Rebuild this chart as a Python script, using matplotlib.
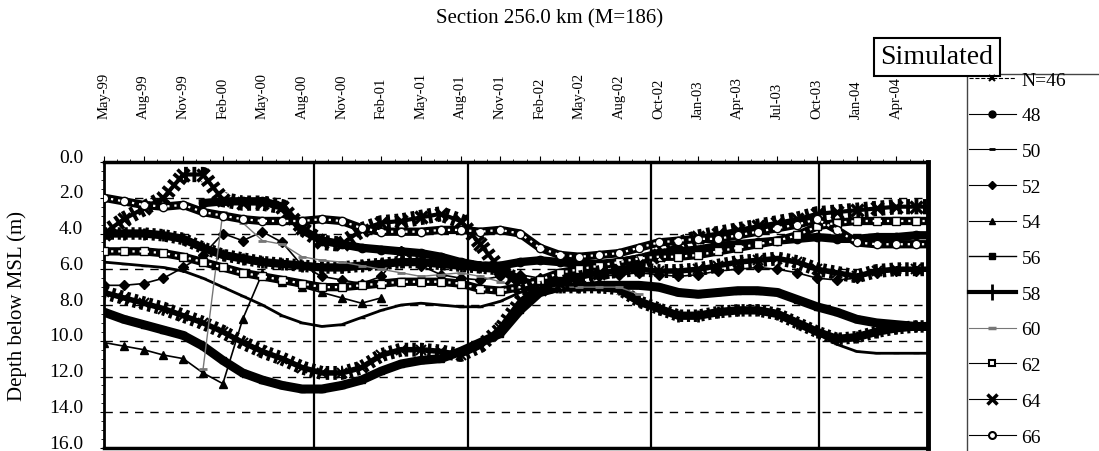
import numpy as np
import matplotlib
matplotlib.use('Agg')
import matplotlib.pyplot as plt
import matplotlib.transforms as mtransforms
from matplotlib.lines import Line2D
from matplotlib.ticker import MultipleLocator

plt.rcParams['font.family'] = ['Liberation Serif', 'DejaVu Serif']

# tick labels along the top axis (one every category step)
months = ['May-99', 'Aug-99', 'Nov-99', 'Feb-00', 'May-00', 'Aug-00', 'Nov-00',
          'Feb-01', 'May-01', 'Aug-01', 'Nov-01', 'Feb-02', 'May-02', 'Aug-02',
          'Oct-02', 'Jan-03', 'Apr-03', 'Jul-03', 'Oct-03', 'Jan-04', 'Apr-04']

# sample positions, two per label step
step = np.arange(0, 21.5, 0.5)
nan = np.nan

# depth below MSL (m), one list per N
n46 = [7.3, 7.6, 7.9, 8.2, 8.6, 9.0, 9.5, 10.1, 10.6, 11.0, 11.5, 11.8, 11.8, 11.5, 10.8,
       10.5, 10.5, 10.6, 10.8, 10.3, 9.3, 7.8, 6.9, 6.5, 6.3, 6.2, 6.1, 6.0, 6.1, 6.1,
       6.0, 5.8, 5.6, 5.5, 5.4, 5.6, 6.0, 6.2, 6.4, 6.1, 6.0, 6.0, 6.0]
n48 = [nan, nan, nan, nan, nan, 2.3, 2.2, 2.2, 2.2, 2.5, 3.8, 4.4, 4.6, 4.8, 4.9,
       5.0, 5.1, 5.3, 5.6, 5.8, 5.8, 5.6, 5.5, 5.6, 5.7, 5.7, 5.6, 5.4, 5.1, 5.0,
       4.9, 4.7, 4.6, 4.5, 4.4, 4.3, 4.2, 4.3, 4.3, 4.2, 4.2, 4.1, 4.1]
n50 = [5.6, 5.7, 5.8, 5.9, 6.1, 6.5, 7.0, 7.5, 8.0, 8.6, 9.0, 9.2, 9.1, 8.7, 8.3,
       8.0, 7.9, 8.0, 8.1, 8.1, 7.8, 7.3, 7.0, 7.0, 7.0, 7.0, 7.1, 7.8, 8.2, 8.6,
       8.6, 8.4, 8.3, 8.3, 8.5, 9.0, 9.6, 10.2, 10.6, 10.7, 10.7, 10.7, 10.7]
n52 = [6.9, 6.9, 6.8, 6.5, 5.9, 5.2, 4.0, 4.4, 3.9, 4.5, 5.8, 6.4, 6.6, 6.8, 6.4,
       5.0, 5.8, 6.3, 6.5, 6.6, 6.4, 6.3, 6.5, 6.6, 6.5, 6.4, 6.3, 6.2, 6.3, 6.4,
       6.3, 6.1, 6.0, 5.9, 6.0, 6.2, 6.5, 6.6, 6.5, 6.2, 6.1, 6.1, 6.1]
n54 = [10.1, 10.3, 10.5, 10.8, 11.0, 11.8, 12.4, 8.8, 6.2, 6.7, 7.0, 7.3, 7.6, 7.9, 7.6,
       nan, nan, nan, nan, nan, nan, nan, nan, nan, nan, nan, nan, nan, nan, nan,
       nan, nan, nan, nan, nan, nan, nan, nan, nan, nan, nan, nan, nan]
n56 = [8.4, 8.8, 9.1, 9.4, 9.7, 10.3, 11.1, 11.8, 12.2, 12.5, 12.7, 12.7, 12.5, 12.2, 11.7,
       11.3, 11.1, 11.0, 10.6, 10.1, 9.6, 8.3, 7.3, 7.0, 7.0, 6.9, 6.9, 6.9, 7.0, 7.3,
       7.4, 7.3, 7.2, 7.2, 7.3, 7.7, 8.1, 8.4, 8.8, 9.0, 9.1, 9.2, 9.2]
n58 = [4.0, 4.0, 4.0, 4.1, 4.3, 4.8, 5.2, 5.4, 5.6, 5.7, 5.8, 5.9, 5.9, 5.8, 5.7,
       5.6, 5.6, 5.7, 5.8, 5.9, 6.0, 6.6, 7.0, 7.0, 7.0, 7.0, 7.1, 7.8, 8.2, 8.6,
       8.6, 8.4, 8.3, 8.3, 8.5, 9.0, 9.5, 9.9, 9.8, 9.5, 9.3, 9.2, 9.2]
n60 = [nan, nan, nan, nan, nan, 11.6, 2.8, 3.4, 4.4, 4.6, 5.3, 5.5, 5.6, 5.8, 6.0,
       6.2, 6.4, 6.3, 6.2, 6.4, 6.7, 7.0, 7.0, 7.0, 7.0, 7.0, 7.0, 7.4, nan, nan,
       nan, nan, nan, nan, nan, nan, nan, nan, nan, nan, nan, nan, nan]
n62 = [5.0, 5.0, 5.0, 5.1, 5.3, 5.6, 5.9, 6.2, 6.4, 6.6, 6.8, 7.0, 7.0, 6.9, 6.8,
       6.7, 6.7, 6.7, 6.8, 7.1, 7.2, 7.0, 6.6, 6.2, 6.0, 5.8, 5.6, 5.4, 5.3, 5.3,
       5.2, 5.0, 4.8, 4.6, 4.4, 4.1, 3.6, 3.4, 3.3, 3.3, 3.3, 3.3, 3.3]
n64 = [4.0, 3.2, 2.6, 2.0, 0.7, 0.7, 2.1, 2.3, 2.3, 2.5, 3.7, 4.5, 4.6, 3.8, 3.4,
       3.3, 3.1, 2.9, 3.3, 4.6, 6.0, 7.0, 7.1, 6.8, 6.5, 6.2, 6.0, 5.7, 5.2, 4.6,
       4.2, 4.0, 3.8, 3.6, 3.4, 3.2, 2.9, 2.8, 2.7, 2.6, 2.5, 2.5, 2.5]
n66 = [2.0, 2.2, 2.4, 2.5, 2.4, 2.8, 3.0, 3.2, 3.3, 3.3, 3.3, 3.2, 3.3, 3.7, 3.9,
       3.9, 3.9, 3.8, 3.8, 3.9, 3.8, 4.0, 4.8, 5.2, 5.3, 5.2, 5.1, 4.8, 4.5, 4.4,
       4.3, 4.3, 4.1, 3.9, 3.7, 3.5, 3.2, 3.8, 4.5, 4.6, 4.6, 4.6, 4.6]

labels = ['N=46', '48', '50', '52', '54', '56', '58', '60', '62', '64', '66']
series = [n46, n48, n50, n52, n54, n56, n58, n60, n62, n64, n66]

# plot style for each series; the markers sit so close in the original that
# they read as thick bands, so the lines are drawn wide
styles = [
    dict(color='k', lw=4, marker='x', ms=7, mew=1.5),
    dict(color='k', lw=6, marker='o', ms=6),
    dict(color='k', lw=2, marker='_', ms=4),
    dict(color='k', lw=1.2, marker='D', ms=5),
    dict(color='k', lw=1.2, marker='^', ms=6),
    dict(color='k', lw=6.5, marker='s', ms=5),
    dict(color='k', lw=6, marker='+', ms=9, mew=2),
    dict(color='#777777', lw=1, marker='_', ms=6, mew=2),
    dict(color='k', lw=6, marker='s', ms=6, mfc='white'),
    dict(color='k', lw=3, marker='x', ms=9, mew=2.5),
    dict(color='k', lw=6, marker='o', ms=6, mfc='white'),
]
# series drawn with a comb of short dashes (x / + markers packed tight)
comb = {'N=46': 10, '58': 9, '64': 11}
# series with hollow markers: white dots inside the band
hollow = ['62', '66']

legend_styles = [
    dict(color='k', lw=0.8, ls='--', marker='x', ms=4, mew=1.5),
    dict(color='k', lw=0.8, marker='o', ms=5),
    dict(color='k', lw=0.8, marker='_', ms=4, mew=2),
    dict(color='k', lw=0.8, marker='D', ms=4),
    dict(color='k', lw=0.8, marker='^', ms=5),
    dict(color='k', lw=1, marker='s', ms=5),
    dict(color='k', lw=3, marker='+', ms=11, mew=2),
    dict(color='#777777', lw=0.8, marker='_', ms=6, mew=2.5),
    dict(color='k', lw=0.8, marker='s', ms=5, mfc='white', mew=1.5),
    dict(color='k', lw=0.8, marker='x', ms=7, mew=2.5),
    dict(color='k', lw=0.8, marker='o', ms=5, mfc='white', mew=1.5),
]

fig = plt.figure(figsize=(10.99, 4.52), dpi=100)
ax = fig.add_axes([104 / 1099, 3 / 452, 824 / 1099, 286 / 452])

for lab, vals, st in zip(labels, series, styles):
    ax.plot(step, vals, zorder=3, **st)
    if lab in comb:
        ax.plot(step, vals, color='k', lw=comb[lab], ls=(0, (0.25, 0.3)),
                solid_capstyle='butt', zorder=3)
    if lab in hollow:
        ax.plot(step, vals, color='white', lw=1.6, ls=(0, (1, 2.2)), zorder=4)

for xv in [5.3, 9.2, 13.8, 18.05]:
    ax.axvline(xv, color='k', lw=1.6, zorder=2)

ax.set_xlim(0, 20.8)
ax.set_ylim(16, 0)
ax.set_yticks(np.arange(0, 17, 2))
ax.set_yticklabels(['%.1f' % v for v in np.arange(0, 17, 2)], fontsize=14)
ax.yaxis.set_minor_locator(MultipleLocator(0.5))
ax.yaxis.grid(True, which='major', color='k', ls=(0, (6, 5)), lw=1)
ax.tick_params(axis='y', which='major', length=3, pad=12)
ax.tick_params(axis='y', which='minor', length=2)
# depth labels sit a little above their grid lines
lift = mtransforms.ScaledTranslation(0, 5 / 72, fig.dpi_scale_trans)
for t in ax.get_yticklabels():
    t.set_transform(t.get_transform() + lift)

ax.xaxis.tick_top()
ax.set_xticks(range(len(months)))
ax.set_xticklabels(months, rotation=90, fontsize=10.5)
ax.xaxis.set_minor_locator(MultipleLocator(1 / 3))
ax.tick_params(axis='x', which='major', length=4, pad=28)
ax.tick_params(axis='x', which='minor', length=2)

ax.spines['top'].set_linewidth(2.5)
ax.spines['right'].set_linewidth(3.5)
ax.spines['left'].set_linewidth(2)
ax.spines['bottom'].set_linewidth(2.5)

ax.set_ylabel('Depth below MSL (m)', fontsize=15)
ax.yaxis.set_label_coords(-0.093, 0.5)

fig.text(550 / 1099, 1 - 19 / 452, 'Section 256.0 km (M=186)', fontsize=15,
         ha='center', va='center')
fig.text(937 / 1099, 1 - 58 / 452, 'Simulated', fontsize=20, ha='center', va='center',
         bbox=dict(boxstyle='square,pad=0.25', fc='white', ec='black', lw=1.5))

handles = [Line2D([], [], **st) for st in legend_styles]
fig.legend(handles, labels, loc='upper left', bbox_to_anchor=(969 / 1099, 1 - 72 / 452),
           frameon=False, fontsize=14, labelspacing=0.93, handlelength=2.4,
           handletextpad=0.3, borderaxespad=0, borderpad=0)
fig.add_artist(Line2D([967 / 1099, 967 / 1099], [0, 1 - 75 / 452],
                      transform=fig.transFigure, color='#444444', lw=1))
fig.add_artist(Line2D([967 / 1099, 1], [1 - 75 / 452, 1 - 75 / 452],
                      transform=fig.transFigure, color='#444444', lw=1))

fig.savefig('out.png', dpi=100)
